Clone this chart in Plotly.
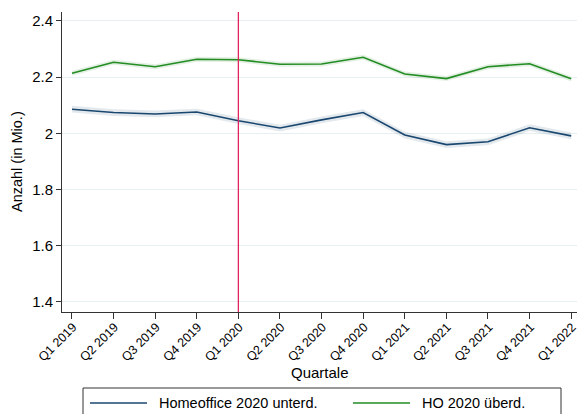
import plotly.graph_objects as go

quarters = ["Q1 2019", "Q2 2019", "Q3 2019", "Q4 2019", "Q1 2020", "Q2 2020",
            "Q3 2020", "Q4 2020", "Q1 2021", "Q2 2021", "Q3 2021", "Q4 2021", "Q1 2022"]
ho_unterd = [2.086, 2.074, 2.069, 2.076, 2.045, 2.019, 2.048, 2.074, 1.994, 1.960, 1.970, 2.020, 1.991]
ho_ueberd = [2.214, 2.253, 2.237, 2.264, 2.262, 2.246, 2.247, 2.271, 2.211, 2.195, 2.237, 2.248, 2.194]
ci_unterd = [0.012] * 13
ci_ueberd = [0.009] * 13
y_ticks = [1.4, 1.6, 1.8, 2.0, 2.2, 2.4]
y_ticklabels = ["1.4", "1.6", "1.8", "2", "2.2", "2.4"]
series_names = ["Homeoffice 2020 unterd.", "HO 2020 überd."]
x_title = "Quartale"
y_title = "Anzahl (in Mio.)"
event_index = 4

x = list(range(len(quarters)))
BLUE = "#1a476f"
GREEN = "#238c23"
FONT = "Liberation Sans, Arial, sans-serif"

W, H = 577, 414
ML, MR, MT, MB = 62, 0, 12, 102
PW, PH = W - ML - MR, H - MT - MB

def px_x(p):
    return (p - ML) / PW

def px_y(p):
    return (H - MB - p) / PH

fig = go.Figure()

def band(vals, ci, color):
    up = [v + c for v, c in zip(vals, ci)]
    lo = [v - c for v, c in zip(vals, ci)]
    fig.add_trace(go.Scatter(x=x + x[::-1], y=up + lo[::-1], fill="toself",
                             fillcolor=color, line=dict(width=0), mode="lines",
                             hoverinfo="skip", showlegend=False))

band(ho_unterd, ci_unterd, "rgba(26,71,111,0.12)")
band(ho_ueberd, ci_ueberd, "rgba(35,140,35,0.13)")

fig.add_trace(go.Scatter(x=x, y=ho_unterd, mode="lines", name=series_names[0],
                         line=dict(color=BLUE, width=1.6), showlegend=False))
fig.add_trace(go.Scatter(x=x, y=ho_ueberd, mode="lines", name=series_names[1],
                         line=dict(color=GREEN, width=1.6), showlegend=False))

fig.add_vline(x=event_index, line=dict(color="#e0245e", width=1.3))

# legend box drawn in paper coordinates
fig.add_shape(type="rect", xref="paper", yref="paper",
              x0=px_x(83), x1=px_x(561), y0=px_y(388), y1=px_y(425),
              line=dict(color="#333", width=1), fillcolor="white", layer="above")
for (sx0, sx1, tx), name, col in zip([(90, 147, 157), (353, 410, 420)], series_names, [BLUE, GREEN]):
    fig.add_shape(type="line", xref="paper", yref="paper",
                  x0=px_x(sx0), x1=px_x(sx1), y0=px_y(403), y1=px_y(403),
                  line=dict(color=col, width=1.6))
    fig.add_annotation(xref="paper", yref="paper", x=px_x(tx), y=px_y(403),
                       text=name, showarrow=False, xanchor="left", yanchor="middle",
                       font=dict(size=14.5, family=FONT, color="#000"))

# axis titles
fig.add_annotation(xref="paper", yref="paper", x=0.5, y=px_y(372), text=x_title,
                   showarrow=False, xanchor="center", yanchor="middle",
                   font=dict(size=15, family=FONT, color="#000"))
fig.add_annotation(xref="paper", yref="paper", x=px_x(17), y=0.5, text=y_title,
                   textangle=-90, showarrow=False, xanchor="center", yanchor="middle",
                   font=dict(size=14.5, family=FONT, color="#000"))

fig.update_layout(
    width=W, height=H,
    margin=dict(l=ML, r=MR, t=MT, b=MB, autoexpand=False),
    paper_bgcolor="white", plot_bgcolor="white",
    font=dict(family=FONT, size=14, color="#000000"),
    showlegend=False,
    xaxis=dict(range=[-0.24, 12.14], tickmode="array", tickvals=x, ticktext=quarters,
               tickangle=-45, tickfont=dict(size=12.5), ticks="outside", ticklen=6,
               tickcolor="#333", showline=True, linecolor="#333", linewidth=1,
               showgrid=False, zeroline=False, automargin=False,
               ticklabeloverflow="allow", ticklabelstandoff=-4, ticklabelshift=1),
    yaxis=dict(range=[1.364, 2.432], tickmode="array", tickvals=y_ticks, ticktext=y_ticklabels,
               tickfont=dict(size=15), ticks="outside", ticklen=5, tickcolor="#333",
               showline=True, linecolor="#333", linewidth=1,
               showgrid=True, gridcolor="#e8eff2", gridwidth=1, zeroline=False,
               automargin=False),
)

fig.write_html("out.html", config={"displayModeBar": False},
               post_script="document.body.style.margin='0';document.body.style.overflow='hidden';")
